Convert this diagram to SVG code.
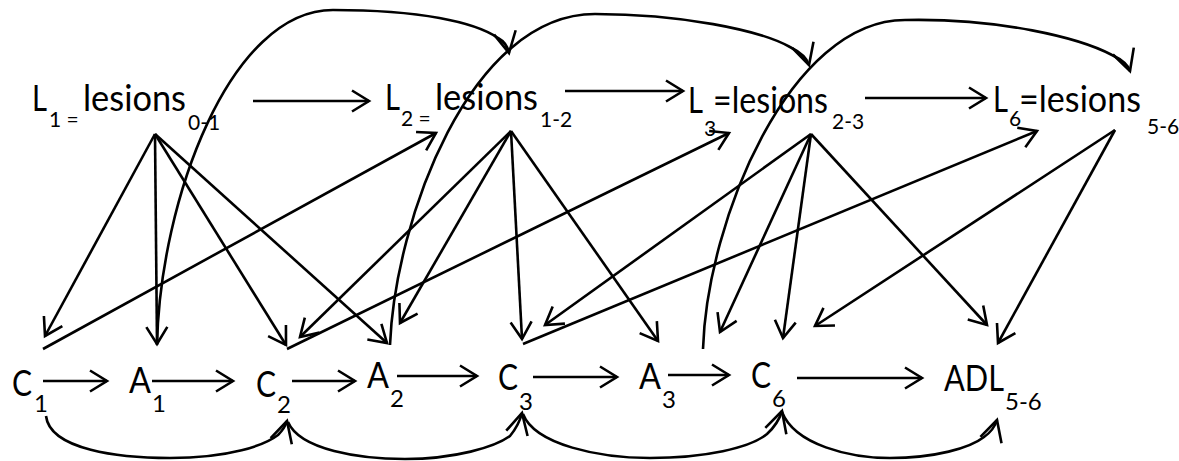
<svg xmlns="http://www.w3.org/2000/svg" width="1179" height="461" viewBox="0 0 1179 461">
<style>
text{font-family:Lato,"Liberation Sans",sans-serif;fill:#000}
.m{font-size:37px}
.st{font-size:21px}
.sb{font-size:24px}
.c path,.c line{fill:none;stroke:#000;stroke-width:2.6}
.c line,.c .a{marker-end:url(#ah)}
.c .k{marker-end:url(#ahc)}
</style>
<defs>
<marker id="ah" markerUnits="userSpaceOnUse" viewBox="-24 -16 28 32" markerWidth="28" markerHeight="32" refX="0" refY="0" orient="auto" overflow="visible">
<path d="M-17,-10.5 L0,0 L-17,10.5" fill="none" stroke="#000" stroke-width="2.6"/>
</marker>
<marker id="ahc" markerUnits="userSpaceOnUse" viewBox="-26 -16 30 32" markerWidth="30" markerHeight="32" refX="0" refY="0" orient="auto" overflow="visible">
<path d="M-21,-11 L0,0 L-21,11" fill="none" stroke="#000" stroke-width="2.6"/>
</marker>
</defs>

<g id="L1"><text class="m" x="32" y="111" textLength="15" lengthAdjust="spacingAndGlyphs">L</text><text class="st" x="49" y="127">1 =</text><text class="m" x="83" y="111" textLength="103" lengthAdjust="spacingAndGlyphs">lesions</text><text class="st" x="188" y="130">0-1</text></g>
<g id="L2"><text class="m" x="385" y="110" textLength="15" lengthAdjust="spacingAndGlyphs">L</text><text class="st" x="401" y="126">2 =</text><text class="m" x="435" y="110" textLength="103" lengthAdjust="spacingAndGlyphs">lesions</text><text class="st" x="540" y="127">1-2</text></g>
<g id="L3"><text class="m" x="688" y="113" textLength="15" lengthAdjust="spacingAndGlyphs">L</text><text class="st" x="704" y="136">3</text><text class="m" x="713" y="113" textLength="115" lengthAdjust="spacingAndGlyphs">=lesions</text><text class="st" x="832" y="129">2-3</text></g>
<g id="L6"><text class="m" x="993" y="112" textLength="15" lengthAdjust="spacingAndGlyphs">L</text><text class="st" x="1009" y="126">6</text><text class="m" x="1019" y="112" textLength="122" lengthAdjust="spacingAndGlyphs">=lesions</text><text class="st" x="1147" y="134">5-6</text></g>

<g id="C1"><text class="m" x="12" y="396" textLength="20" lengthAdjust="spacingAndGlyphs">C</text><text class="sb" x="34" y="412">1</text></g>
<g id="A1"><text class="m" x="129" y="393" textLength="22" lengthAdjust="spacingAndGlyphs">A</text><text class="sb" x="152" y="412">1</text></g>
<g id="C2"><text class="m" x="256" y="397" textLength="20" lengthAdjust="spacingAndGlyphs">C</text><text class="sb" x="277" y="413">2</text></g>
<g id="A2"><text class="m" x="367" y="388" textLength="22" lengthAdjust="spacingAndGlyphs">A</text><text class="sb" x="390" y="407">2</text></g>
<g id="C3"><text class="m" x="498" y="390" textLength="20" lengthAdjust="spacingAndGlyphs">C</text><text class="sb" x="519" y="410">3</text></g>
<g id="A3"><text class="m" x="639" y="389" textLength="22" lengthAdjust="spacingAndGlyphs">A</text><text class="sb" x="662" y="408">3</text></g>
<g id="C6"><text class="m" x="751" y="388" textLength="20" lengthAdjust="spacingAndGlyphs">C</text><text class="sb" x="772" y="407">6</text></g>
<g id="ADL"><text class="m" x="944" y="391" textLength="60" lengthAdjust="spacingAndGlyphs">ADL</text><text class="sb" x="1005" y="410">5-6</text></g>

<g id="connectors" class="c">
<line x1="253" y1="101" x2="369" y2="101"/>
<line x1="565" y1="91" x2="683" y2="91"/>
<line x1="865" y1="98" x2="986" y2="98"/>

<line x1="43" y1="381" x2="107" y2="381"/>
<line x1="152" y1="381" x2="233" y2="381"/>
<line x1="292" y1="381" x2="355" y2="381"/>
<line x1="397" y1="376" x2="477" y2="376"/>
<line x1="533" y1="377" x2="617" y2="377"/>
<line x1="668" y1="375" x2="729" y2="375"/>
<line x1="797" y1="378" x2="922" y2="378"/>

<line x1="155" y1="134" x2="45" y2="336"/>
<line x1="155" y1="134" x2="157" y2="344"/>
<line x1="155" y1="134" x2="286" y2="345"/>
<line x1="155" y1="134" x2="387" y2="343"/>
<line x1="43" y1="349" x2="436" y2="133"/>

<line x1="511" y1="131" x2="300" y2="337"/>
<line x1="511" y1="131" x2="400" y2="323"/>
<line x1="511" y1="131" x2="522" y2="339"/>
<line x1="511" y1="131" x2="658" y2="341"/>
<line x1="287" y1="349" x2="729" y2="133"/>

<line x1="811" y1="134" x2="545" y2="325"/>
<line x1="811" y1="134" x2="720" y2="332"/>
<line x1="811" y1="134" x2="783" y2="338"/>
<line x1="811" y1="134" x2="987" y2="325"/>
<line x1="523" y1="344" x2="1037" y2="131"/>

<line x1="1115" y1="130" x2="815" y2="326"/>
<line x1="1115" y1="130" x2="998" y2="343"/>

<path class="k" d="M157,345 C160,200 230,10 333,10 C420,10 475,22 498,38 Q507,43 509,53"/>
<path class="k" d="M390,345 C395,220 470,14 595,14 C680,14 760,30 790,47 Q806,55 809,65"/>
<path class="k" d="M703,349 C707,220 790,20 905,20 C1000,18 1080,38 1112,55 Q1127,62 1130,71"/>

<path class="k" d="M46,416 C50,450 120,458 170,458 C230,458 265,445 278,435 Q285,428 287,421"/>
<path class="k" d="M288,422 C300,450 360,459 405,459 C455,459 495,447 510,436 Q519,425 522,413"/>
<path class="k" d="M523,414 C535,445 600,458 650,458 C705,458 750,448 767,434 Q778,424 782,411"/>
<path class="k" d="M782,412 C795,445 850,458 890,458 C935,458 970,448 984,437 Q994,430 997,420"/>
</g>
</svg>
